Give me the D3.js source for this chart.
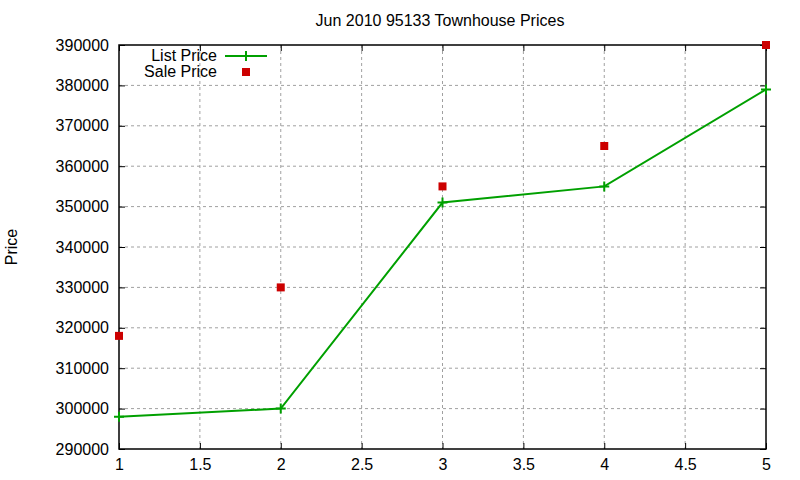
<!DOCTYPE html>
<html>
<head>
<meta charset="utf-8">
<script src="https://cdn.jsdelivr.net/npm/d3@7"></script>
<style>
  body { margin: 0; background: #fff; }
  text { font-family: "Liberation Sans", Arial, sans-serif; font-size: 16px; fill: #000; }
</style>
</head>
<body>
<svg id="grafico"></svg>
<script>
// dados
const posicoes = [1, 2, 3, 4, 5];
const precoLista = [298000, 300000, 351000, 355000, 379000];
const precoVenda = [318000, 330000, 355000, 365000, 390000];
const ticksX = [1, 1.5, 2, 2.5, 3, 3.5, 4, 4.5, 5];
const ticksY = [290000, 300000, 310000, 320000, 330000, 340000, 350000, 360000, 370000, 380000, 390000];

const largura = 800, altura = 480;
const margem = { esquerda: 119, direita: 34, superior: 45, inferior: 31 };
const larguraPlotagem = largura - margem.esquerda - margem.direita;
const alturaPlotagem = altura - margem.superior - margem.inferior;

const svg = d3.select('#grafico').attr('width', largura).attr('height', altura);

const fnX = d3.scaleLinear().domain([1, 5]).range([0, larguraPlotagem]);
const fnY = d3.scaleLinear().domain([290000, 390000]).range([alturaPlotagem, 0]);

const plotagem = svg.append('g')
    .attr('transform', 'translate(' + margem.esquerda + ',' + margem.superior + ')');

// grade
plotagem.append('g').selectAll('line').data(ticksX.slice(1, -1)).join('line')
    .attr('x1', d => fnX(d)).attr('x2', d => fnX(d))
    .attr('y1', 0).attr('y2', alturaPlotagem)
    .attr('stroke', '#a0a0a0').attr('stroke-dasharray', '3,3');
plotagem.append('g').selectAll('line').data(ticksY.slice(1, -1)).join('line')
    .attr('x1', 0).attr('x2', larguraPlotagem)
    .attr('y1', d => fnY(d)).attr('y2', d => fnY(d))
    .attr('stroke', '#a0a0a0').attr('stroke-dasharray', '3,3');

// eixos (ticks para dentro, espelhados)
const eixoX = d3.axisBottom(fnX).tickValues(ticksX).tickSize(-6).tickPadding(10).tickFormat(d3.format('~g'));
const eixoXTopo = d3.axisTop(fnX).tickValues(ticksX).tickSize(-6).tickFormat('');
const eixoY = d3.axisLeft(fnY).tickValues(ticksY).tickSize(-6).tickPadding(10).tickFormat(d3.format('d'));
const eixoYDir = d3.axisRight(fnY).tickValues(ticksY).tickSize(-6).tickFormat('');

plotagem.append('g').attr('transform', 'translate(0,' + alturaPlotagem + ')').call(eixoX);
plotagem.append('g').call(eixoXTopo);
plotagem.append('g').call(eixoY);
plotagem.append('g').attr('transform', 'translate(' + larguraPlotagem + ',0)').call(eixoYDir);

plotagem.selectAll('.domain').remove();
plotagem.selectAll('.tick line').attr('stroke', '#000');
plotagem.selectAll('.tick text').style('font-size', '16px').attr('font-family', null);

plotagem.append('rect')
    .attr('width', larguraPlotagem).attr('height', alturaPlotagem)
    .attr('fill', 'none').attr('stroke', '#000').attr('stroke-width', 1.5);

// linha List Price
const linha = d3.line().x((d, i) => fnX(posicoes[i])).y(d => fnY(d));
plotagem.append('path').datum(precoLista)
    .attr('d', linha).attr('fill', 'none')
    .attr('stroke', '#00a000').attr('stroke-width', 2);

function cruz(g, x, y) {
    g.append('path')
        .attr('d', 'M' + (x - 5) + ',' + y + 'H' + (x + 5) + 'M' + x + ',' + (y - 5) + 'V' + (y + 5))
        .attr('stroke', '#00a000').attr('stroke-width', 2);
}
precoLista.forEach((d, i) => cruz(plotagem, fnX(posicoes[i]), fnY(d)));

// pontos Sale Price
plotagem.selectAll('.venda').data(precoVenda).join('rect')
    .classed('venda', true)
    .attr('x', (d, i) => fnX(posicoes[i]) - 4)
    .attr('y', d => fnY(d) - 4)
    .attr('width', 8).attr('height', 8)
    .attr('fill', '#cc0000');

// legenda
svg.append('text').attr('x', 217).attr('y', 61).attr('text-anchor', 'end').text('List Price');
svg.append('line').attr('x1', 225).attr('x2', 267).attr('y1', 56).attr('y2', 56)
    .attr('stroke', '#00a000').attr('stroke-width', 2);
cruz(svg, 246, 56);
svg.append('text').attr('x', 217).attr('y', 77).attr('text-anchor', 'end').text('Sale Price');
svg.append('rect').attr('x', 242).attr('y', 68).attr('width', 8).attr('height', 8).attr('fill', '#cc0000');

// títulos
svg.append('text').attr('x', 440).attr('y', 26).attr('text-anchor', 'middle').text('Jun 2010 95133 Townhouse Prices');
svg.append('text').attr('transform', 'translate(17,247) rotate(-90)').attr('text-anchor', 'middle').text('Price');
</script>
</body>
</html>
